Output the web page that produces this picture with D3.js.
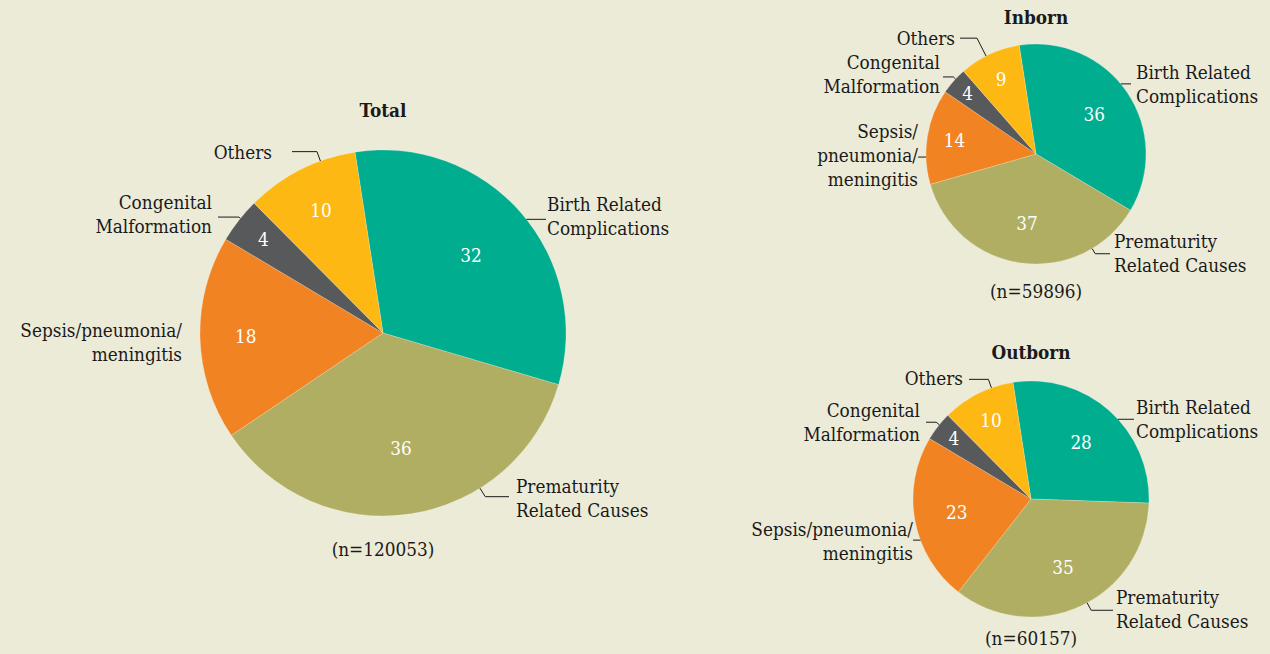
<!DOCTYPE html>
<html lang="en">
<head>
<meta charset="UTF-8">
<title>Causes of neonatal deaths</title>
<style>
  body { margin: 0; background: #ecebd7; }
  svg text { font-family: "DejaVu Serif", "Liberation Serif", serif; font-stretch: condensed; fill: #1a1a1a; }
</style>
</head>
<body>
<script src="https://cdnjs.cloudflare.com/ajax/libs/d3/7.8.5/d3.min.js"></script>
<script>
'use strict';
// categories and values (percent)
const categories = ["Birth Related Complications", "Prematurity Related Causes",
  "Sepsis/pneumonia/meningitis", "Congenital Malformation", "Others"];
const totalValues = [32, 36, 18, 4, 10];
const inbornValues = [36, 37, 14, 4, 9];
const outbornValues = [28, 35, 23, 4, 10];
const panelTitles = ["Total", "Inborn", "Outborn"];
const sampleSizes = ["(n=120053)", "(n=59896)", "(n=60157)"];

const colors = ["#00ad8e", "#b0ae62", "#f28322", "#58595b", "#fdb813"];
const fs = 18.8, lh = 24;
const rotation = -8.8 * Math.PI / 180;

// layout: a = angle where leader leaves the pie, e = radial elbow, tx = text x from centre,
// g = gap between line end and text, dy = text shift
const panels = [
  { values: totalValues, cx: 383, cy: 333, r: 183, titleY: 110, nY: 549,
    labels: [
      { lines: ["Birth Related", "Complications"], a: 51.6, e: 0, tx: 164, g: 1, dy: -3 },
      { lines: ["Prematurity", "Related Causes"], a: 148, e: 10, tx: 133, g: 7, dy: 2 },
      { lines: ["Sepsis/pneumonia/", "meningitis"], a: 267.6, e: 0, tx: -201, g: 18, dy: 2 },
      { lines: ["Congenital", "Malformation"], a: 308.8, e: 2, tx: -171, g: 6, dy: -3 },
      { lines: ["Others"], a: 340, e: 10, tx: -111, g: 20, dy: 1 }
    ] },
  { values: inbornValues, cx: 1036, cy: 154, r: 110, titleY: 17, nY: 291,
    labels: [
      { lines: ["Birth Related", "Complications"], a: 50.4, e: 0, tx: 100, g: 5, dy: 1 },
      { lines: ["Prematurity", "Related Causes"], a: 149.3, e: 6, tx: 78, g: 4, dy: 0 },
      { lines: ["Sepsis/", "pneumonia/", "meningitis"], a: 268.4, e: 0, tx: -118, g: 0, dy: -2 },
      { lines: ["Congenital", "Malformation"], a: 313, e: 3, tx: -96, g: 3, dy: -3 },
      { lines: ["Others"], a: 333, e: 20, tx: -81, g: 5, dy: 0 }
    ] },
  { values: outbornValues, cx: 1031, cy: 499, r: 118, titleY: 352, nY: 638,
    labels: [
      { lines: ["Birth Related", "Complications"], a: 47.5, e: 0, tx: 105, g: 2, dy: 0 },
      { lines: ["Prematurity", "Related Causes"], a: 151.6, e: 8.5, tx: 85, g: 3, dy: -1 },
      { lines: ["Sepsis/pneumonia/", "meningitis"], a: 249.6, e: 0, tx: -118, g: 0, dy: 1 },
      { lines: ["Congenital", "Malformation"], a: 309, e: 4, tx: -111, g: 6, dy: 0 },
      { lines: ["Others"], a: 340.4, e: 9, tx: -68, g: 6, dy: -1 }
    ] }
];

const svg = d3.select("body").append("svg")
  .attr("width", 1270)
  .attr("height", 654);

svg.append("rect").attr("width", 1270).attr("height", 654).attr("fill", "#ecebd7");

const pie = d3.pie().sort(null).startAngle(rotation).endAngle(rotation + 2 * Math.PI);

// where the white value sits, as a share of the radius
function labelK(v) {
  return v <= 5 ? 0.83 : v <= 20 ? 0.75 : 0.64;
}

panels.forEach(function(p, pi) {
  const g = svg.append("g");
  const arcs = pie(p.values);
  const arc = d3.arc().innerRadius(0).outerRadius(p.r);

  g.selectAll("path.slice")
    .data(arcs)
    .enter()
    .append("path")
      .attr("class", "slice")
      .attr("transform", `translate(${p.cx},${p.cy})`)
      .attr("d", arc)
      .attr("fill", (d, i) => colors[i])
      .attr("stroke", "rgba(255,255,255,0.35)")
      .attr("stroke-width", 0.6);

  // value labels inside
  g.selectAll("text.val")
    .data(arcs)
    .enter()
    .append("text")
      .attr("class", "val")
      .attr("text-anchor", "middle")
      .style("fill", "#fff")
      .style("font-size", fs + "px")
      .attr("x", d => {
        const m = (d.startAngle + d.endAngle) / 2;
        return p.cx + p.r * labelK(d.value) * Math.sin(m);
      })
      .attr("y", d => {
        const m = (d.startAngle + d.endAngle) / 2;
        return p.cy - p.r * labelK(d.value) * Math.cos(m) + fs * 0.35;
      })
      .text(d => d.value);

  // category labels with leader lines
  p.labels.forEach(function(l) {
    const a = l.a * Math.PI / 180;
    const ex = p.cx + p.r * Math.sin(a), ey = p.cy - p.r * Math.cos(a);
    const bx = p.cx + (p.r + l.e) * Math.sin(a), by = p.cy - (p.r + l.e) * Math.cos(a);
    const side = l.tx > 0 ? 1 : -1;
    const lx = p.cx + l.tx - side * l.g;
    const pts = [[ex, ey], [bx, by]];
    if (Math.abs(lx - bx) > 1) pts.push([lx, by]);
    if (Math.hypot(pts[pts.length - 1][0] - ex, pts[pts.length - 1][1] - ey) > 1) {
      g.append("path")
        .attr("d", d3.line()(pts))
        .attr("fill", "none")
        .attr("stroke", "#1a1a1a")
        .attr("stroke-width", 1);
    }
    const cyText = by + l.dy;
    const t = g.append("text")
      .attr("text-anchor", side > 0 ? "start" : "end")
      .style("font-size", fs + "px");
    l.lines.forEach(function(s, i) {
      t.append("tspan")
        .attr("x", p.cx + l.tx)
        .attr("y", cyText + (i - (l.lines.length - 1) / 2) * lh + fs * 0.35)
        .text(s);
    });
  });

  // title and sample size
  g.append("text")
    .attr("x", p.cx).attr("y", p.titleY + fs * 0.35)
    .attr("text-anchor", "middle")
    .style("font-size", fs + "px")
    .style("font-weight", "bold")
    .text(panelTitles[pi]);
  g.append("text")
    .attr("x", p.cx).attr("y", p.nY + fs * 0.35)
    .attr("text-anchor", "middle")
    .style("font-size", fs + "px")
    .text(sampleSizes[pi]);
});
</script>
</body>
</html>
